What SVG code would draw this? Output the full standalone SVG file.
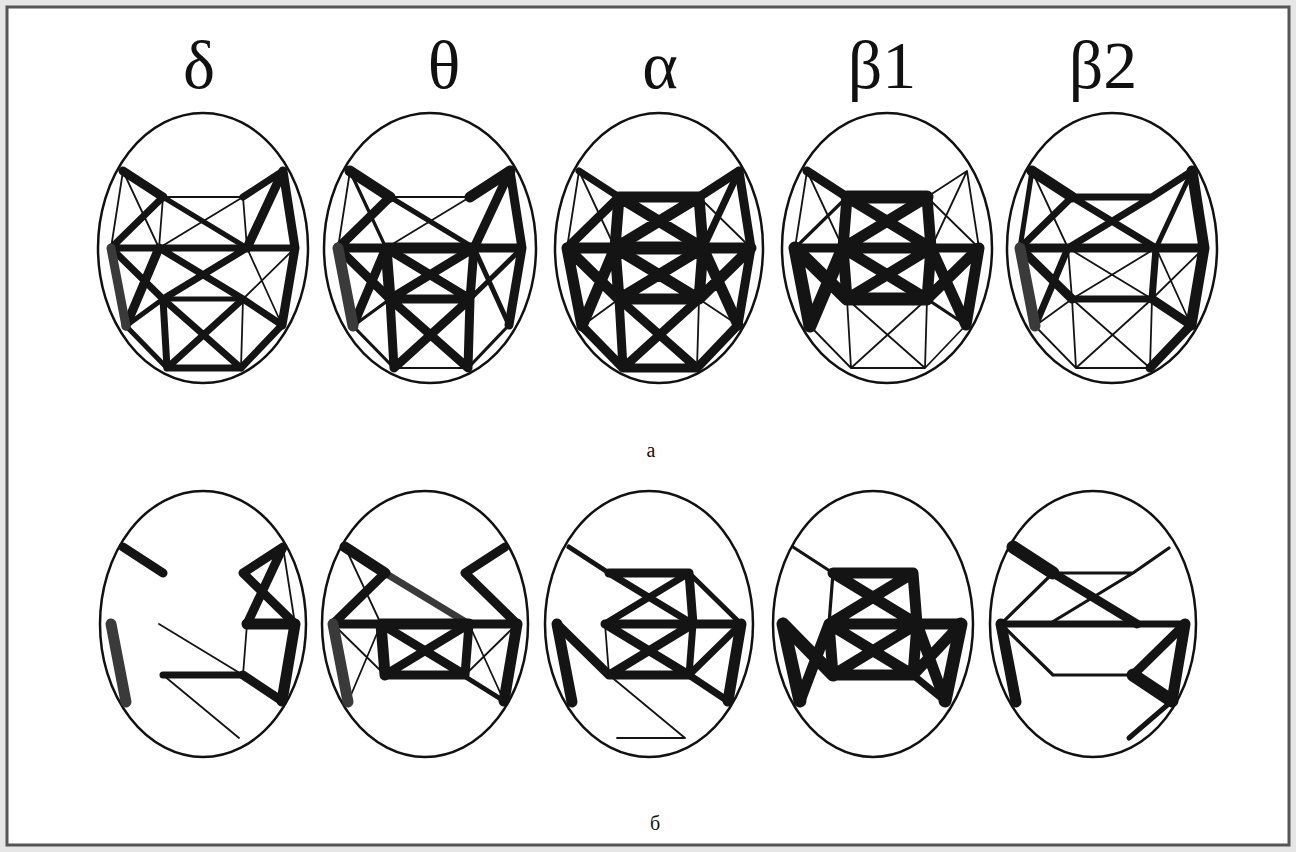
<svg xmlns="http://www.w3.org/2000/svg" width="1296" height="852" viewBox="0 0 1296 852">
<style>
.hd{fill:#fff;stroke:#111;stroke-width:2.5}
.e path{fill:none;stroke:#141414;stroke-linecap:round;stroke-linejoin:round}
.t1{stroke-width:1.8}
.t2{stroke-width:3.2}
.t3{stroke-width:5}
.t4{stroke-width:7}
.t5{stroke-width:9}
.t6{stroke-width:11}
.t7{stroke-width:13}
.g{stroke:#3a3a3a !important}
.lbl{font-family:"Liberation Serif","Times New Roman",serif;fill:#111;text-anchor:middle}
</style>
<rect width="1296" height="852" fill="#e6e6e6"/>
<rect x="7" y="7" width="1282" height="838" fill="#fff" stroke="#555" stroke-width="3"/>

<g id="labels" class="lbl">
<text x="199" y="88" font-size="68">δ</text>
<text x="444" y="88" font-size="68">θ</text>
<text x="660" y="88" font-size="68">α</text>
<text x="882" y="88" font-size="68">β1</text>
<text x="1103" y="88" font-size="68">β2</text>
<text x="651" y="457" font-size="20">а</text>
<text x="655" y="830" font-size="20">б</text>
</g>

<!-- Top row -->
<g id="top-delta" transform="translate(203,248)">
<ellipse class="hd" rx="105" ry="135"/>
<g class="e">
<path class="t1" d="M-80-77L-92 0M-80-77L-44 0M-40-51L40-51M40-51L-44 0M40-51L44 0M40 51L38 120M92 0L40 51M44 0L79 77M-40-51L-44 0"/>
<path class="t3" d="M-40-51L44 0M-77 78L-40 51M-77 78L-36 120M-40 51L40 51"/>
<path class="t4" d="M-40-51L-92 0M40-51L80-77M-92 0L92 0M-92 0L-40 51M-44 0L40 51M40 51L79 77M44 0L-40 51M-40 51L-36 120M-36 120L38 120M-40 51L38 120M40 51L-36 120M79 77L38 120"/>
<path class="t5" d="M-80-77L-40-51M80-77L44 0M80-77L92 0M92 0L79 77M-44 0L-77 78"/>
<path class="t5 g" d="M-92 0L-77 78"/>
</g>
</g>

<g id="top-theta" transform="translate(430,248)">
<ellipse class="hd" rx="106" ry="135"/>
<g class="e">
<path class="t1" d="M-80-77L-92 0M40-51L-44 0M-40-51L40-51M-36 120L38 120"/>
<path class="t2" d="M-80-77L-44 0M-77 78L-40 51M79 77L38 120M-77 78L-36 120"/>
<path class="t3" d="M-40-51L44 0M92 0L40 51M44 0L79 77"/>
<path class="t5" d="M-40-51L-92 0M80-77L44 0M80-77L92 0M-92 0L92 0M44 0L40 51M-44 0L40 51M44 0L-40 51M-40 51L40 51M-44 0L-77 78M92 0L79 77M-40 51L-36 120M40 51L38 120M-40 51L38 120M40 51L-36 120M-92 0L-40 51"/>
<path class="t6" d="M-80-77L-40-51M40-51L80-77M-44 0L44 0M-44 0L-40 51"/>
<path class="t6 g" d="M-92 0L-77 78"/>
</g>
</g>

<g id="top-alpha" transform="translate(659,248)">
<ellipse class="hd" rx="104" ry="135"/>
<g class="e">
<path class="t1" d="M-80-77L-92 0M-80-77L-44 0M40-51L92 0M-77 78L-40 51M79 77L40 51M40 51L38 120"/>
<path class="t4" d="M-80-77L-40-51M80-77L44 0"/>
<path class="t5" d="M-40-51L-92 0M40-51L80-77M80-77L92 0M-40 51L-36 120M-36 120L38 120M-40 51L38 120M40 51L-36 120M-77 78L-36 120M79 77L38 120M92 0L79 77"/>
<path class="t6" d="M-40-51L40-51M-40-51L-44 0M40-51L44 0M-40-51L44 0M40-51L-44 0M-92 0L92 0M-92 0L-40 51M-44 0L-77 78M-92 0L-77 78M44 0L79 77M92 0L40 51M-44 0L-40 51M44 0L40 51M-44 0L40 51M44 0L-40 51M-40 51L40 51"/>
<path class="t7" d="M-44 0L44 0"/>
</g>
</g>

<g id="top-beta1" transform="translate(887,248)">
<ellipse class="hd" rx="105" ry="135"/>
<g class="e">
<path class="t1" d="M-80-77L-92 0M-80-77L-44 0M40-51L80-77M80-77L44 0M80-77L92 0M40-51L92 0M-40 51L-36 120M40 51L38 120M-36 120L38 120M-40 51L38 120M40 51L-36 120M-77 78L-36 120M79 77L38 120"/>
<path class="t2" d="M-40-51L-92 0M79 77L40 51"/>
<path class="t5" d="M-80-77L-40-51M-92 0L92 0"/>
<path class="t6" d="M-40-51L-44 0M40-51L44 0M-40-51L44 0M40-51L-44 0M-44 0L44 0M92 0L40 51M44 0L79 77M92 0L79 77M-44 0L-40 51M44 0L40 51M-44 0L40 51M44 0L-40 51"/>
<path class="t7" d="M-40-51L40-51M-92 0L-40 51M-44 0L-77 78M-92 0L-77 78M-40 51L40 51"/>
</g>
</g>

<g id="top-beta2" transform="translate(1112,248)">
<ellipse class="hd" rx="105" ry="135"/>
<g class="e">
<path class="t1" d="M-80-77L-44 0M-44 0L-40 51M-44 0L40 51M44 0L-40 51M-40 51L-36 120M40 51L38 120M-36 120L38 120M-40 51L38 120M40 51L-36 120M-77 78L-36 120M-77 78L-40 51M92 0L40 51M44 0L79 77"/>
<path class="t3" d="M80-77L44 0M-80-77L-92 0"/>
<path class="t4" d="M-40-51L40-51M40-51L80-77M-40-51L-92 0M-40-51L44 0M40-51L-44 0M44 0L40 51M-40 51L40 51M-44 0L-77 78"/>
<path class="t5" d="M-92 0L92 0M-92 0L-40 51M40 51L79 77M79 77L38 120"/>
<path class="t6" d="M-80-77L-40-51M80-77L92 0M92 0L79 77"/>
<path class="t6 g" d="M-92 0L-77 78"/>
</g>
</g>

<!-- Bottom row -->
<g id="bot-delta" transform="translate(203,624)">
<ellipse class="hd" rx="103" ry="133"/>
<g class="e">
<path class="t1" d="M-44 0L40 51M-40 51L36 114M44 0L40 51M80-77L92 0"/>
<path class="t4" d="M-40 51L40 51"/>
<path class="t5" d="M-80-77L-40-51M40 51L79 77M80-77L40-51M80-77L44 0M40-51L92 0"/>
<path class="t6" d="M92 0L79 77M44 0L92 0"/>
<path class="t6 g" d="M-92 0L-77 78"/>
</g>
</g>

<g id="bot-theta" transform="translate(425,624)">
<ellipse class="hd" rx="103" ry="133"/>
<g class="e">
<path class="t1" d="M-80-77L-44 0M-92 0L-40 51M-44 0L-77 78M44 0L79 77M92 0L40 51"/>
<path class="t3" d="M-44 0L79 77"/>
<path class="t4 g" d="M-40-51L44 0"/>
<path class="t5" d="M-40-51L-92 0M40-51L80-77M40-51L92 0M-92 0L92 0M-40 51L40 51M44 0L40 51M-44 0L40 51M44 0L-40 51"/>
<path class="t6" d="M-80-77L-40-51M-44 0L44 0M-44 0L-40 51M92 0L79 77"/>
<path class="t6 g" d="M-92 0L-77 78"/>
</g>
</g>

<g id="bot-alpha" transform="translate(649,624)">
<ellipse class="hd" rx="104" ry="133"/>
<g class="e">
<path class="t1" d="M-44 0L-40 51M-40 51L36 114M36 114L-32 114"/>
<path class="t3" d="M-80-77L-40-51M40-51L92 0"/>
<path class="t4" d="M-40-51L44 0M40-51L-44 0M40 51L79 77M92 0L40 51M44 0L40 51"/>
<path class="t5" d="M-40-51L40-51M40-51L44 0M-44 0L44 0M44 0L92 0M-92 0L-40 51M-40 51L40 51M-44 0L40 51M44 0L-40 51"/>
<path class="t6" d="M-92 0L-77 78M92 0L79 77"/>
</g>
</g>

<g id="bot-beta1" transform="translate(873,624)">
<ellipse class="hd" rx="100" ry="133"/>
<g class="e">
<path class="t2" d="M-80-77L-40-51M-40-51L-44 0"/>
<path class="t4" d="M40 51L72 77"/>
<path class="t6" d="M-40-51L40-51M40-51L44 0M-40-51L44 0M40-51L-44 0M-44 0L44 0M44 0L88 0M-44 0L-40 51M44 0L40 51M-40 51L40 51M-44 0L40 51M44 0L-40 51M88 0L40 51M-44 0L-73 77M44 0L72 77"/>
<path class="t7" d="M-90 0L-73 77M-90 0L-40 51M88 0L72 77"/>
</g>
</g>

<g id="bot-beta2" transform="translate(1093,624)">
<ellipse class="hd" rx="103" ry="133"/>
<g class="e">
<path class="t2" d="M-40-51L40-51M40-51L76-76M40-51L-44 0M-92 0L-40-51M-92 0L-40 51M-40 51L40 51"/>
<path class="t3" d="M79 77L36 114"/>
<path class="t4" d="M-92 0L92 0"/>
<path class="t5" d="M-40-51L44 0M92 0L40 51"/>
<path class="t6" d="M-92 0L-77 78M92 0L79 77"/>
<path class="t7" d="M-80-77L-40-51M40 51L79 77"/>
</g>
</g>
</svg>
